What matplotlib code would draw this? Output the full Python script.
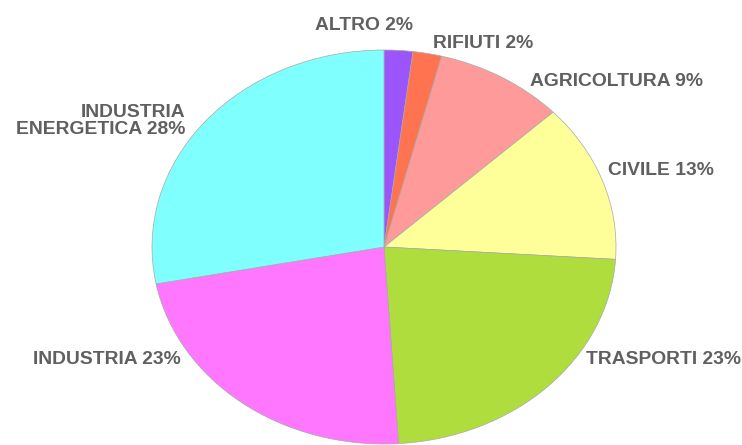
import matplotlib
matplotlib.use("Agg")
import matplotlib.pyplot as plt

# sector shares (%), clockwise from 12 o'clock
sectors = ["ALTRO", "RIFIUTI", "AGRICOLTURA", "CIVILE", "TRASPORTI",
           "INDUSTRIA", "INDUSTRIA\nENERGETICA"]
shares = [2, 2, 9, 13, 23, 23, 28]
colors = ["#9b55fb", "#ff7350", "#ff9a9a", "#ffff99", "#afdd3e",
          "#ff77ff", "#80ffff"]

W, H = 742, 445
fig = plt.figure(figsize=(W / 100, H / 100), dpi=100)
ax = fig.add_axes([0, 0, 1, 1])

ax.pie(shares, colors=colors, startangle=90, counterclock=False,
       wedgeprops=dict(edgecolor="#a8a8a8", linewidth=0.5))

# the original pie is stretched into an ellipse (rx=232px, ry=197px)
cx, cy, rx, ry = 384, 247, 232, 197
ax.set_aspect("auto")
ax.set_xlim(-cx / rx, (W - cx) / rx)
ax.set_ylim(-(H - cy) / ry, cy / ry)
ax.axis("off")

# label anchors in pixels (x, y from top, horizontal alignment)
label_pos = [(364, 25, "center"), (483, 44, "center"), (616, 81, "center"),
             (661, 171, "center"), (663, 360, "center"), (181, 360, "right"),
             (185, 121, "right")]

for name, val, (px, py, ha) in zip(sectors, shares, label_pos):
    fig.text(px / W, 1 - py / H, f"{name} {val}%", ha=ha, va="center",
             fontsize=13.9, fontweight="bold", family="Liberation Sans",
             color="#606060", linespacing=1.0)

fig.savefig("out.png", dpi=100)
